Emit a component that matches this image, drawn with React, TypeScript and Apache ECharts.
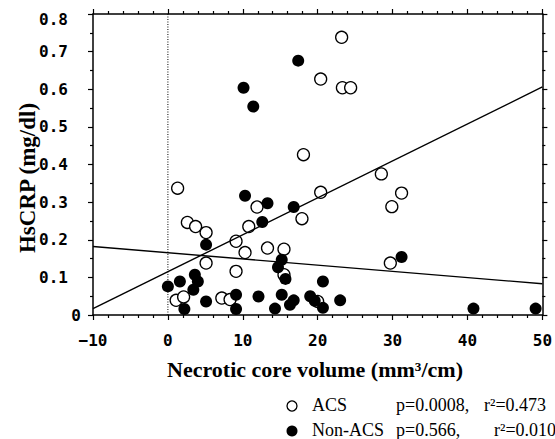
import React, { useEffect, useRef } from "react";
import * as echarts from "echarts";

// ACS (open circles)
const acsX = [1.3, 2.6, 3.7, 5.1, 5.1, 1.1, 2.1, 7.2, 8.3, 9.1, 9.1, 10.3, 10.8, 11.9, 13.3, 15.5, 15.5, 17.9, 18.1, 20.4, 20.4, 23.2, 23.3, 24.4, 28.5, 29.9, 31.2, 29.7, 20.0];
const acsY = [0.337, 0.246, 0.235, 0.219, 0.138, 0.039, 0.048, 0.045, 0.041, 0.196, 0.116, 0.166, 0.235, 0.287, 0.178, 0.175, 0.107, 0.256, 0.426, 0.326, 0.627, 0.738, 0.604, 0.604, 0.375, 0.288, 0.324, 0.138, 0.036];

// Non-ACS (filled circles)
const nonX = [0.0, 1.6, 2.2, 3.6, 4.0, 3.4, 5.1, 5.1, 9.1, 9.1, 10.3, 10.1, 11.4, 12.1, 12.6, 13.3, 14.3, 14.7, 15.2, 15.7, 15.2, 16.3, 16.8, 16.8, 17.4, 19.0, 19.6, 20.7, 20.7, 23.0, 31.2, 40.8, 49.1];
const nonY = [0.076, 0.089, 0.016, 0.107, 0.089, 0.067, 0.036, 0.187, 0.054, 0.016, 0.317, 0.604, 0.554, 0.049, 0.247, 0.297, 0.017, 0.127, 0.147, 0.096, 0.054, 0.027, 0.039, 0.287, 0.676, 0.05, 0.038, 0.019, 0.089, 0.039, 0.154, 0.017, 0.017];

// Regression lines (endpoints at axis limits)
const fitX = [-10, 50];
const acsFitY = [0.017, 0.606];
const nonFitY = [0.182, 0.083];

// Reference line at x = 0
const refX = [0, 0];
const refY = [0, 0.8];

const xMin = -10, xMax = 50, xStep = 10;
const yMin = 0, yMax = 0.8, yStep = 0.1;

const legendNames = ["ACS", "Non-ACS"];
const legendP = ["p=0.0008,", "p=0.566,"];
const legendR = ["r\u00B2=0.473", "r\u00B2=0.010"];

const zip = (xs: number[], ys: number[]) => xs.map((x, i) => [x, ys[i]]);

const MONO = "'DejaVu Sans Mono', monospace";
const SERIF = "'Liberation Serif', 'Times New Roman', serif";

export default function App() {
  const ref = useRef<HTMLDivElement>(null);
  useEffect(() => {
    if (!ref.current) return;
    const chart = echarts.init(ref.current, null, { renderer: "svg" });
    const axisLine = { show: true, onZero: false, lineStyle: { color: "#000", width: 1.5 } };
    const tickBase = { show: true, inside: false, length: 5, lineStyle: { color: "#000", width: 1.2 } };
    const minorBase = { show: true, length: 3, lineStyle: { color: "#000", width: 1.2 } };
    const labelStyle = { fontFamily: MONO, fontSize: 16, fontWeight: "bold" as const, color: "#000" };
    chart.setOption({
      animation: false,
      backgroundColor: "#fff",
      grid: { left: 93, top: 14, width: 450, height: 301, containLabel: false },
      xAxis: [
        {
          type: "value", position: "bottom", min: xMin, max: xMax, interval: xStep,
          axisLine, axisTick: tickBase, minorTick: { ...minorBase, splitNumber: 5 },
          splitLine: { show: false }, minorSplitLine: { show: false },
          axisLabel: {
            ...labelStyle, margin: 17,
            formatter: (v: number) => (v < 0 ? "\u2212" + Math.abs(v) : String(v)),
          },
        },
        {
          type: "value", position: "top", min: xMin, max: xMax, interval: xStep,
          axisLine, axisTick: tickBase, minorTick: { ...minorBase, splitNumber: 5 },
          splitLine: { show: false }, axisLabel: { show: false },
        },
      ],
      yAxis: [
        {
          type: "value", position: "left", min: yMin, max: yMax, interval: yStep,
          axisLine, axisTick: tickBase, minorTick: { ...minorBase, splitNumber: 2 },
          splitLine: { show: false }, minorSplitLine: { show: false },
          axisLabel: {
            margin: 12,
            formatter: (v: number) => {
              if (Math.abs(v) < 1e-9) return "{z|0}";
              if (Math.abs(v - 0.8) < 1e-9) return "{t|" + v.toFixed(1) + "}";
              return "{n|" + v.toFixed(1) + "}";
            },
            rich: {
              z: { ...labelStyle },
              n: { ...labelStyle, padding: [0, 13, 0, 0] },
              t: { ...labelStyle, padding: [11, 13, 0, 0] },
            },
          },
        },
        {
          type: "value", position: "right", min: yMin, max: yMax, interval: yStep,
          axisLine, axisTick: tickBase, minorTick: { ...minorBase, splitNumber: 2 },
          splitLine: { show: false }, axisLabel: { show: false },
        },
      ],
      series: [
        {
          type: "line", data: zip(refX, refY), symbol: "none", silent: true,
          lineStyle: { color: "#000", width: 1, type: [1, 1.5] }, z: 1,
        },
        {
          name: "ACS", type: "scatter", data: zip(acsX, acsY), symbol: "circle", symbolSize: 12,
          itemStyle: { color: "#fff", borderColor: "#000", borderWidth: 1.3, opacity: 1 }, z: 2,
        },
        {
          name: "Non-ACS", type: "scatter", data: zip(nonX, nonY), symbol: "circle", symbolSize: 12,
          itemStyle: { color: "#000", borderColor: "#000", borderWidth: 0, opacity: 1 }, z: 3,
        },
        {
          type: "line", data: zip(fitX, acsFitY), symbol: "none", silent: true,
          lineStyle: { color: "#000", width: 1.4 }, z: 4,
        },
        {
          type: "line", data: zip(fitX, nonFitY), symbol: "none", silent: true,
          lineStyle: { color: "#000", width: 1.4 }, z: 4,
        },
      ],
      graphic: [
        {
          type: "text", x: 27, y: 178, rotation: Math.PI / 2,
          style: {
            text: "HsCRP (mg/dl)", font: `bold 23px ${SERIF}`, fill: "#000",
            align: "center", verticalAlign: "middle",
          },
        },
        {
          type: "text", x: 315, y: 369,
          style: {
            text: "Necrotic core volume (mm\u00B3/cm)", font: `bold 22px ${SERIF}`, fill: "#000",
            align: "center", verticalAlign: "middle",
          },
        },
        { type: "circle", shape: { cx: 292, cy: 406, r: 5 }, style: { fill: "#fff", stroke: "#000", lineWidth: 1.3 } },
        { type: "circle", shape: { cx: 292, cy: 431, r: 5.5 }, style: { fill: "#000", stroke: "#000", lineWidth: 0 } },
        { type: "text", x: 312, y: 405, style: { text: legendNames[0], font: `18px ${SERIF}`, fill: "#000", verticalAlign: "middle" } },
        { type: "text", x: 312, y: 430, style: { text: legendNames[1], font: `18px ${SERIF}`, fill: "#000", verticalAlign: "middle" } },
        { type: "text", x: 396, y: 405, style: { text: legendP[0], font: `18px ${SERIF}`, fill: "#000", verticalAlign: "middle" } },
        { type: "text", x: 396, y: 430, style: { text: legendP[1], font: `18px ${SERIF}`, fill: "#000", verticalAlign: "middle" } },
        { type: "text", x: 484, y: 405, style: { text: legendR[0], font: `18px ${SERIF}`, fill: "#000", verticalAlign: "middle" } },
        { type: "text", x: 494, y: 430, style: { text: legendR[1], font: `18px ${SERIF}`, fill: "#000", verticalAlign: "middle" } },
      ],
    });
    return () => chart.dispose();
  }, []);
  return (
    <div
      ref={ref}
      style={{ position: "fixed", left: 0, top: 0, width: 555, height: 439, background: "#fff" }}
    />
  );
}
